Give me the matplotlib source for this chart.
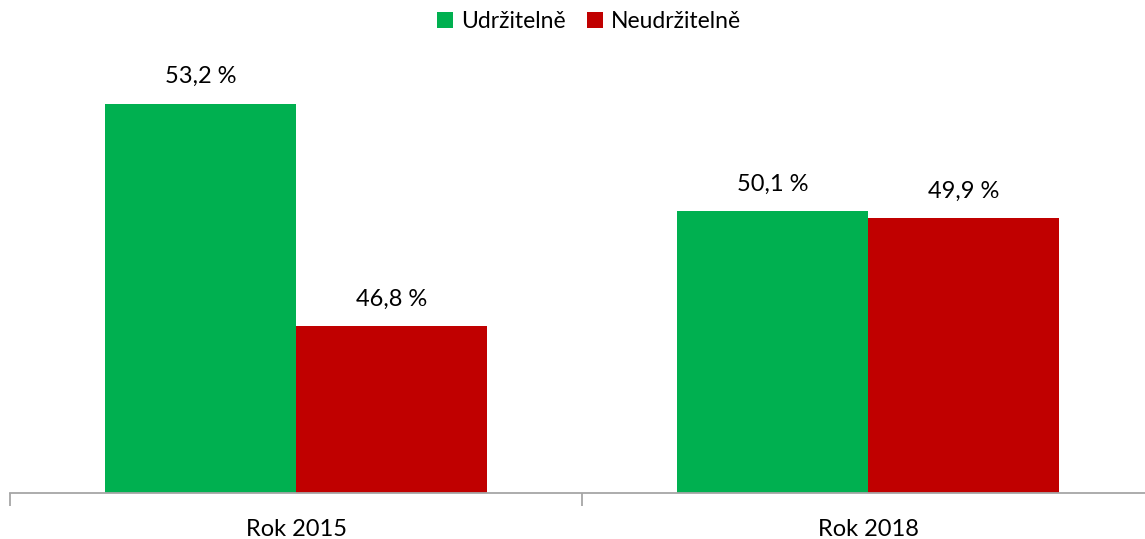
import numpy as np
import matplotlib.pyplot as plt
from matplotlib.patches import Patch

years = ['Rok 2015', 'Rok 2018']
sustainable = [53.2, 50.1]
unsustainable = [46.8, 49.9]
series_names = ['Udržitelně', 'Neudržitelně']
colors = ['#00B050', '#C00000']

plt.rcParams['font.family'] = ['Lato', 'DejaVu Sans']

fig = plt.figure(figsize=(11.45, 5.39), dpi=100)
ax = fig.add_axes([10 / 1145, 46 / 539, 1144 / 1145, 452 / 539])

x = np.arange(len(years))
w = 1 / 3
for offset, vals, color in [(-w / 2, sustainable, colors[0]), (w / 2, unsustainable, colors[1])]:
    bars = ax.bar(x + offset, vals, width=w, color=color, zorder=2)
    for b, v in zip(bars, vals):
        ax.annotate(f'{v:.1f} %'.replace('.', ','), (b.get_x() + b.get_width() / 2, v),
                    xytext=(0, 12), textcoords='offset points', ha='center', va='bottom',
                    fontsize=17, color='#000000')

ax.set_xlim(-0.5, 1.5)
ax.set_ylim(42, 55)
ax.set_yticks([])
ax.set_xticks(x)
ax.set_xticklabels(years, fontsize=17)
ax.tick_params(axis='x', which='major', length=0, pad=19)
ax.set_xticks([-0.5, 0.5, 1.5], minor=True)
ax.tick_params(axis='x', which='minor', length=9, width=1.3, color='#A6A6A6')
for side in ['top', 'right', 'left']:
    ax.spines[side].set_visible(False)
ax.spines['bottom'].set_color('#A6A6A6')
ax.spines['bottom'].set_linewidth(1.3)

handles = [Patch(facecolor=c, label=n) for c, n in zip(colors, series_names)]
fig.legend(handles=handles, loc='center', bbox_to_anchor=(589 / 1145, 1 - 22 / 539), ncol=2,
           frameon=False, fontsize=16.5, handlelength=0.7, handleheight=0.7,
           handletextpad=0.35, columnspacing=0.9)

fig.savefig('out.png', dpi=100)
